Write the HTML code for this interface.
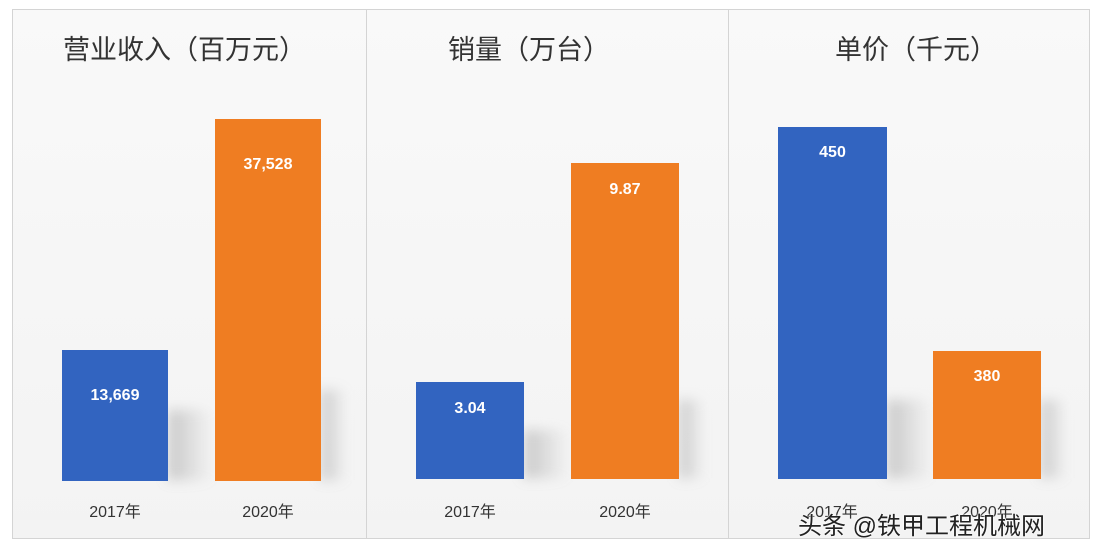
<!DOCTYPE html>
<html><head><meta charset="utf-8"><style>
body{margin:0;width:1100px;height:550px;background:#fff;position:relative;overflow:hidden;font-family:"Liberation Sans","Noto Sans CJK SC",sans-serif}
.p{position:absolute;top:9px;height:530px;border:1px solid #d4d4d4;background:linear-gradient(#f9f9f9,#f3f3f3);box-sizing:border-box}
.t{position:absolute;top:28px;font-size:27px;color:#333;white-space:nowrap}
.b{position:absolute;}
.bl{background:#3264c0}.or{background:#ef7d22}
.v{position:absolute;width:100%;text-align:center;color:#fff;font-weight:bold;font-size:16px}
.sh{position:absolute;background:linear-gradient(90deg,rgba(120,120,120,.35),rgba(160,160,160,0));filter:blur(6px)}
.l{position:absolute;top:498px;font-size:16px;color:#333;width:110px;text-align:center}
.wm{position:absolute;left:798px;top:506px;font-size:24px;color:#222;text-shadow:0 0 2px #fff,0 0 2px #fff}
</style></head><body>
<div class="p" style="left:12px;width:355px"></div>
<div class="p" style="left:366px;width:363px"></div>
<div class="p" style="left:728px;width:362px"></div>
<div class="t" style="left:63px">营业收入（百万元）</div>
<div class="t" style="left:448px">销量（万台）</div>
<div class="t" style="left:835px">单价（千元）</div>

<div class="sh" style="left:168px;top:410px;width:45px;height:70px"></div>
<div class="sh" style="left:321px;top:390px;width:25px;height:90px"></div>
<div class="sh" style="left:524px;top:430px;width:45px;height:48px"></div>
<div class="sh" style="left:679px;top:400px;width:25px;height:78px"></div>
<div class="sh" style="left:887px;top:400px;width:45px;height:78px"></div>
<div class="sh" style="left:1041px;top:400px;width:25px;height:78px"></div>

<div class="b bl" style="left:62px;top:350px;width:106px;height:131px"><div class="v" style="top:37px">13,669</div></div>
<div class="b or" style="left:215px;top:119px;width:106px;height:362px"><div class="v" style="top:37px">37,528</div></div>
<div class="b bl" style="left:416px;top:382px;width:108px;height:97px"><div class="v" style="top:18px">3.04</div></div>
<div class="b or" style="left:571px;top:163px;width:108px;height:316px"><div class="v" style="top:18px">9.87</div></div>
<div class="b bl" style="left:778px;top:127px;width:109px;height:352px"><div class="v" style="top:17px">450</div></div>
<div class="b or" style="left:933px;top:351px;width:108px;height:128px"><div class="v" style="top:17px">380</div></div>

<div class="l" style="left:60px">2017年</div>
<div class="l" style="left:213px">2020年</div>
<div class="l" style="left:415px">2017年</div>
<div class="l" style="left:570px">2020年</div>
<div class="l" style="left:777px">2017年</div>
<div class="l" style="left:932px">2020年</div>
<div class="wm">头条 @铁甲工程机械网</div>
</body></html>
